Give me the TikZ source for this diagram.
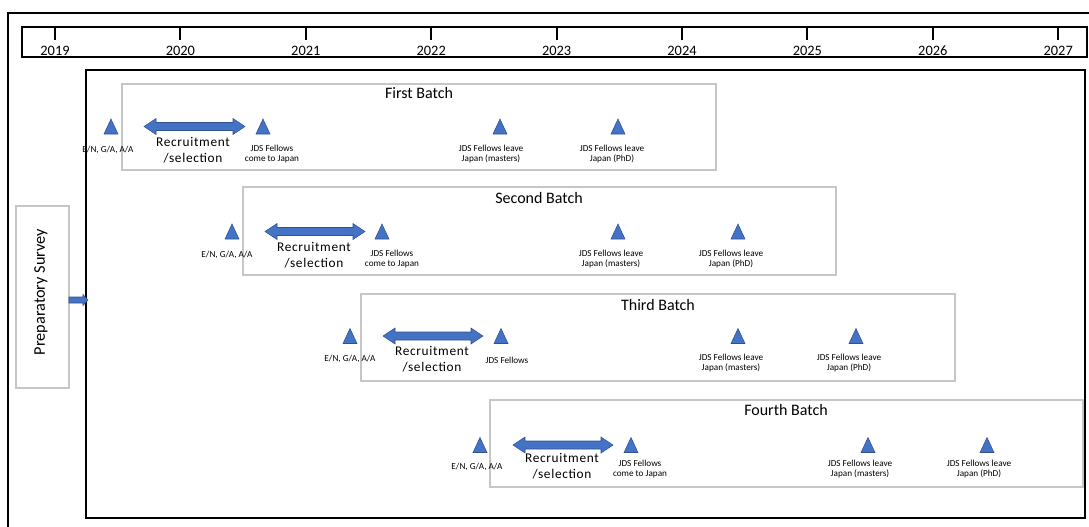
\documentclass[tikz,border=0pt]{standalone}
\usepackage{fontspec}
\setmainfont{Carlito}
\newfontfamily\recfont[LetterSpace=5]{Carlito}
\usetikzlibrary{calc}
\definecolor{jblue}{HTML}{4472C4}
\definecolor{jedge}{HTML}{2F528F}
\definecolor{jgray}{HTML}{C6C6C6}
\tikzset{
  frame/.style={draw=black, line width=1.5pt},
  batchbox/.style={draw=jgray, line width=0.8pt},
  yearlbl/.style={font=\fontsize{10.8}{12}\selectfont, anchor=base, inner sep=0pt},
  ttl/.style={font=\fontsize{12}{14}\selectfont, anchor=base, inner sep=0pt},
  recr/.style={font=\recfont\fontsize{10}{12}\selectfont, align=center, inner sep=0pt},
  small/.style={font=\fontsize{6.9}{7.6}\selectfont, align=center, inner sep=0pt},
  tri/.style={fill=jblue, draw=jedge, line width=0.4pt},
  blockarrow/.style={fill=jblue, draw=jedge, line width=0.4pt},
}
\newcommand\jtri[3]{\coordinate (#1) at (#2,#3);
  \path[tri] ([shift={(-7,7.5)}]#1) -- ([shift={(7,7.5)}]#1) -- ([shift={(0,-7.5)}]#1) -- cycle;}
\newcommand\jdbl[4]{\coordinate (#1a) at (#2,#4); \coordinate (#1b) at (#3,#4);
  \path[blockarrow] (#1a) -- ([shift={(12,-8)}]#1a) -- ([shift={(12,-4)}]#1a) -- ([shift={(-12,-4)}]#1b)
   -- ([shift={(-12,-8)}]#1b) -- (#1b) -- ([shift={(-12,8)}]#1b) -- ([shift={(-12,4)}]#1b)
   -- ([shift={(12,4)}]#1a) -- ([shift={(12,8)}]#1a) -- cycle;}
\begin{document}
\begin{tikzpicture}[x=0.75pt, y=-0.75pt]
\useasboundingbox (0,0) rectangle (1089,526);
% outer frame
\draw[frame] (1090,13) -- (8,13) -- (8,527);
% timeline
\draw[frame] (22,27) rectangle (1087,57);
\foreach \yr [count=\k from 0] in {2019,2020,2021,2022,2023,2024,2025,2026,2027}{
  \draw[line width=1.4pt] (55+125.4*\k,27) -- (55+125.4*\k,40);
  \node[yearlbl] (y\yr) at (55+125.4*\k,55) {\yr};
}
% inner frame
\draw[frame] (86,70) rectangle (1085,518);
% preparatory survey
\node[batchbox, minimum width=39.75pt, minimum height=136.5pt, inner sep=0pt] (prep) at (42.5,297) {};
\node[rotate=90, font=\fontsize{12.2}{14}\selectfont, inner sep=0pt] (prepl) at (41,292) {Preparatory Survey};
\coordinate (pa) at (69,300);
\coordinate (pb) at (88,300);
\path[blockarrow] ([shift={(0,-3)}]pa) -- ([shift={(-5,-3)}]pb) -- ([shift={(-5,-5.5)}]pb) -- (pb)
  -- ([shift={(-5,5.5)}]pb) -- ([shift={(-5,3)}]pb) -- ([shift={(0,3)}]pa) -- cycle;

% ---------- First batch ----------
\draw[batchbox] (122,84) rectangle (716,170);
\node[ttl] (b1t) at (419,98) {First Batch};
\jtri{b1en}{111}{126.5}
\node[small] (b1enl) at (108,150) {E/N, G/A, A/A};
\jdbl{b1r}{144}{245}{126.5}
\node[recr] (b1rl) at (193,150) {Recruitment\\/selection};
\jtri{b1co}{263}{126.5}
\node[small] (b1col) at (272,154) {JDS Fellows\\come to Japan};
\jtri{b1ma}{500}{126.5}
\node[small] (b1mal) at (491,154) {JDS Fellows leave\\Japan (masters)};
\jtri{b1ph}{618}{126.5}
\node[small] (b1phl) at (612,154) {JDS Fellows leave\\Japan (PhD)};

% ---------- Second batch ----------
\draw[batchbox] (243,187) rectangle (836,275);
\node[ttl] (b2t) at (539,203) {Second Batch};
\jtri{b2en}{232}{231.5}
\node[small] (b2enl) at (227,255) {E/N, G/A, A/A};
\jdbl{b2r}{265}{365}{231.5}
\node[recr] (b2rl) at (314,255) {Recruitment\\/selection};
\jtri{b2co}{382}{231.5}
\node[small] (b2col) at (392,259) {JDS Fellows\\come to Japan};
\jtri{b2ma}{618}{231.5}
\node[small] (b2mal) at (611,259) {JDS Fellows leave\\Japan (masters)};
\jtri{b2ph}{738}{231.5}
\node[small] (b2phl) at (731,259) {JDS Fellows leave\\Japan (PhD)};

% ---------- Third batch ----------
\draw[batchbox] (361,294) rectangle (955,381);
\node[ttl] (b3t) at (658,310) {Third Batch};
\jtri{b3en}{350}{336}
\node[small] (b3enl) at (350,359) {E/N, G/A, A/A};
\jdbl{b3r}{383}{483}{336}
\node[recr] (b3rl) at (432,359) {Recruitment\\/selection};
\jtri{b3co}{501}{336}
\node[small] (b3col) at (507,360) {JDS Fellows};
\jtri{b3ma}{738}{336}
\node[small] (b3mal) at (731,363) {JDS Fellows leave\\Japan (masters)};
\jtri{b3ph}{856}{336}
\node[small] (b3phl) at (849,363) {JDS Fellows leave\\Japan (PhD)};

% ---------- Fourth batch ----------
\draw[batchbox] (490,400) rectangle (1083,487);
\node[ttl] (b4t) at (786,415) {Fourth Batch};
\jtri{b4en}{480}{445}
\node[small] (b4enl) at (477,467) {E/N, G/A, A/A};
\jdbl{b4r}{513}{613}{445}
\node[recr] (b4rl) at (562,466) {Recruitment\\/selection};
\jtri{b4co}{631}{445}
\node[small] (b4col) at (640,469) {JDS Fellows\\come to Japan};
\jtri{b4ma}{868}{445}
\node[small] (b4mal) at (860,469) {JDS Fellows leave\\Japan (masters)};
\jtri{b4ph}{987}{445}
\node[small] (b4phl) at (979,469) {JDS Fellows leave\\Japan (PhD)};
\end{tikzpicture}
\end{document}
